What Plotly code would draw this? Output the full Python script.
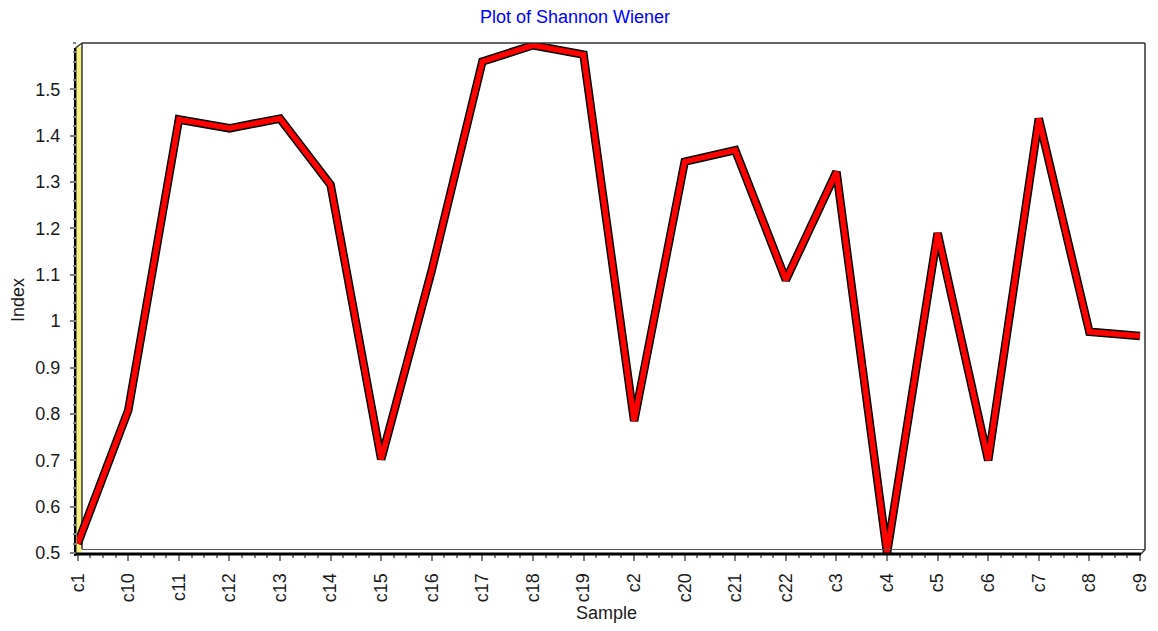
import plotly.graph_objects as go

samples = ["c1", "c10", "c11", "c12", "c13", "c14", "c15", "c16", "c17", "c18", "c19",
           "c2", "c20", "c21", "c22", "c3", "c4", "c5", "c6", "c7", "c8", "c9"]
index_values = [0.52, 0.808, 1.435, 1.416, 1.437, 1.294, 0.702, 1.11, 1.56, 1.595, 1.575,
                0.785, 1.344, 1.369, 1.089, 1.322, 0.5, 1.19, 0.70, 1.437, 0.977, 0.968]
y_ticks = [0.5, 0.6, 0.7, 0.8, 0.9, 1.0, 1.1, 1.2, 1.3, 1.4, 1.5]

# page has an 8px body margin; size the figure so the plot lands at page pixels
OFF = 8
W, H = 1158 - OFF, 631 - OFF
L, R, T, B = 77 - OFF, 13, 43 - OFF, 78
PW, PH = W - L - R, H - T - B

def px(x):
    return (x - OFF - L) / PW

def py(y):
    return (OFF + T + PH - y) / PH

xpos = list(range(len(samples)))
FONT = "Liberation Sans, Arial, sans-serif"

fig = go.Figure()
fig.add_trace(go.Scatter(x=xpos, y=index_values, mode="lines",
                         line=dict(color="#000000", width=8.5), hoverinfo="skip",
                         showlegend=False, cliponaxis=False))
fig.add_trace(go.Scatter(x=xpos, y=index_values, mode="lines",
                         line=dict(color="#ff0000", width=5.5), name="Index",
                         showlegend=False, cliponaxis=False))

shapes = []
shapes.append(dict(type="rect", xref="paper", yref="paper", x0=px(76.5), x1=px(81.5),
                   y0=py(553), y1=py(47), fillcolor="#f6f07a", line=dict(width=0), layer="below"))
shapes.append(dict(type="line", xref="paper", yref="paper", x0=px(75.2), x1=px(75.2),
                   y0=py(556), y1=py(48), line=dict(color="#000000", width=2.5), layer="below"))
shapes.append(dict(type="line", xref="paper", yref="paper", x0=px(82), x1=px(82),
                   y0=py(549), y1=py(43), line=dict(color="#333333", width=1.5), layer="below"))
shapes.append(dict(type="line", xref="paper", yref="paper", x0=px(75.5), x1=px(82),
                   y0=py(48), y1=py(43), line=dict(color="#333333", width=1.5)))
shapes.append(dict(type="line", xref="paper", yref="paper", x0=px(82), x1=px(1145),
                   y0=py(43), y1=py(43), line=dict(color="#333333", width=1.5)))
shapes.append(dict(type="line", xref="paper", yref="paper", x0=px(1145), x1=px(1145),
                   y0=py(43), y1=py(550), line=dict(color="#333333", width=1.5)))
shapes.append(dict(type="line", xref="paper", yref="paper", x0=px(82), x1=px(1145),
                   y0=py(549.5), y1=py(549.5), line=dict(color="#555555", width=1.2)))
shapes.append(dict(type="line", xref="paper", yref="paper", x0=px(75.5), x1=px(1141),
                   y0=py(554), y1=py(554), line=dict(color="#000000", width=3)))
shapes.append(dict(type="line", xref="paper", yref="paper", x0=px(1141), x1=px(1145),
                   y0=py(554), y1=py(549.5), line=dict(color="#333333", width=1.5)))

fig.update_layout(
    width=W, height=H,
    margin=dict(l=L, r=R, t=T, b=B, autoexpand=False),
    paper_bgcolor="#ffffff", plot_bgcolor="#ffffff",
    shapes=shapes,
    font=dict(family=FONT, size=18, color="#1a1a1a"),
    annotations=[
        dict(text="Plot of Shannon Wiener", x=px(575), y=py(17), xref="paper", yref="paper",
             xanchor="center", yanchor="middle", showarrow=False,
             font=dict(family=FONT, size=18, color="#0000ff")),
        dict(text="Sample", x=px(606), y=py(613), xref="paper", yref="paper",
             xanchor="center", yanchor="middle", showarrow=False,
             font=dict(family=FONT, size=18, color="#1a1a1a")),
        dict(text="Index", x=px(18), y=py(300), xref="paper", yref="paper",
             xanchor="center", yanchor="middle", showarrow=False, textangle=-90,
             font=dict(family=FONT, size=18, color="#1a1a1a")),
    ],
)

fig.update_xaxes(range=[-0.014, 21.1], tickmode="array", tickvals=xpos, ticktext=samples,
                 tickangle=-90, ticks="outside", ticklen=7, tickcolor="#808080", tickwidth=1.5,
                 showgrid=False, zeroline=False, showline=False, automargin=False,
                 minor=dict(ticks="outside", ticklen=4, dtick=0.25, tickcolor="#808080", tickwidth=1.5),
                 ticklabelstandoff=5, tickfont=dict(size=18, color="#1a1a1a"))
fig.update_yaxes(range=[0.5, 1.6], tickmode="array", tickvals=y_ticks,
                 ticktext=[("%g" % v) for v in y_ticks],
                 ticks="outside", ticklen=6, tickcolor="#808080", tickwidth=1.5,
                 showgrid=False, zeroline=False, showline=False, automargin=False,
                 minor=dict(ticks="outside", ticklen=3, dtick=0.02, tick0=0.5, tickcolor="#808080", tickwidth=1.5),
                 ticklabelstandoff=6, tickfont=dict(size=18, color="#1a1a1a"))

fig.write_html("out.html")
